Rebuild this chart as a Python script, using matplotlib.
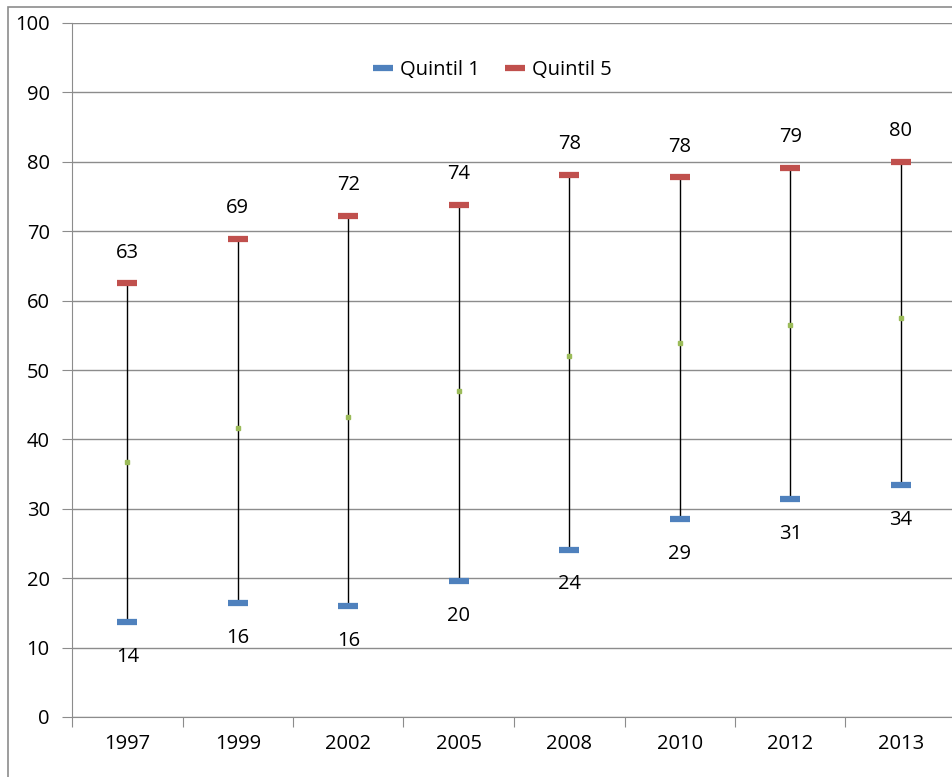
import matplotlib
matplotlib.use("Agg")
import matplotlib.pyplot as plt
from matplotlib.patches import Rectangle

years = ["1997", "1999", "2002", "2005", "2008", "2010", "2012", "2013"]
quintil1 = [13.7, 16.4, 16.0, 19.6, 24.1, 28.5, 31.4, 33.4]
quintil5 = [62.5, 68.9, 72.2, 73.8, 78.1, 77.8, 79.1, 80.0]
midpoint = [36.7, 41.6, 43.2, 47.0, 52.0, 53.9, 56.5, 57.5]
q1_labels = ["14", "16", "16", "20", "24", "29", "31", "34"]
q5_labels = ["63", "69", "72", "74", "78", "78", "79", "80"]

plt.rcParams['font.family'] = ['Open Sans', 'DejaVu Sans']

W, H = 953, 777
fig = plt.figure(figsize=(W / 100, H / 100), dpi=100)
fig.patch.set_facecolor("white")
fig.patches.append(Rectangle((8 / W, -0.1), 2, 1 - 7 / H + 0.1, transform=fig.transFigure,
                             fill=False, edgecolor="#8c8c8c", lw=1.2))

left, right, top, bottom = 72, 956, 23, 717
ax = fig.add_axes([left / W, 1 - bottom / H, (right - left) / W, (bottom - top) / H])

x = list(range(len(years)))
grid_c = "#8c8c8c"
fs = 14.5
ax.set_ylim(0, 100)
ax.set_xlim(-0.5, len(years) - 0.5)
ax.set_yticks(range(0, 101, 10))
ax.yaxis.grid(True, color=grid_c, lw=1)
ax.set_axisbelow(True)
for s in ["top", "right"]:
    ax.spines[s].set_visible(False)
ax.spines["left"].set_color(grid_c)
ax.spines["bottom"].set_color(grid_c)
ax.tick_params(axis="y", length=7, color=grid_c, labelsize=fs, pad=9)
ax.set_xticks([i - 0.5 for i in range(len(years) + 1)])
ax.set_xticklabels([])
ax.set_xticks(x, minor=True)
ax.set_xticklabels(years, minor=True)
ax.tick_params(axis="x", which="major", length=7, color=grid_c)
ax.tick_params(axis="x", which="minor", length=0, labelsize=fs, pad=12)

for i in x:
    ax.plot([i, i], [quintil1[i], quintil5[i]], color="black", lw=1, zorder=2)
ax.plot(x, midpoint, ls="none", marker="s", ms=2.5, color="#9BBB59", zorder=3)
ax.plot(x, quintil1, ls="none", marker="_", ms=14, mew=4.5, color="#4F81BD", label="Quintil 1", zorder=4)
ax.plot(x, quintil5, ls="none", marker="_", ms=14, mew=4.5, color="#C0504D", label="Quintil 5", zorder=4)

for i in x:
    ax.annotate(q5_labels[i], (i, quintil5[i]), xytext=(0, 22), textcoords="offset points",
                ha="center", va="center", fontsize=fs)
    ax.annotate(q1_labels[i], (i, quintil1[i]), xytext=(0, -25), textcoords="offset points",
                ha="center", va="center", fontsize=fs)

leg = ax.legend(loc="center", bbox_to_anchor=((493 - left) / (right - left), (bottom - 70) / (bottom - top)),
                ncol=2, frameon=False, fontsize=fs, handlelength=0.9, handletextpad=0.4,
                columnspacing=1.3)

fig.savefig("out.png", dpi=100, facecolor="white")
